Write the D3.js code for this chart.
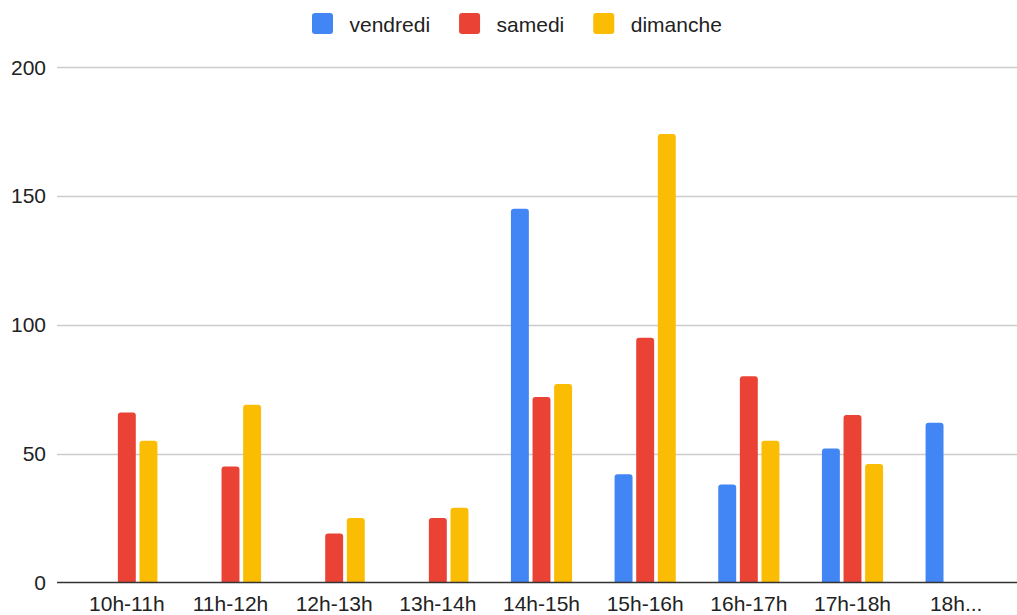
<!DOCTYPE html>
<html>
<head>
<meta charset="utf-8">
<script src="https://cdn.jsdelivr.net/npm/d3@7"></script>
<style>
  body { margin: 0; background: #fff; }
  svg { display: block; font-family: "Liberation Sans", Arial, sans-serif; }
</style>
</head>
<body>
<svg id="chart"></svg>
<script>
// Time slots (x categories)
const categories = ["10h-11h", "11h-12h", "12h-13h", "13h-14h", "14h-15h", "15h-16h", "16h-17h", "17h-18h", "18h..."];
const seriesNames = ["vendredi", "samedi", "dimanche"];
const colors = ["#4285F4", "#EA4335", "#FBBC04"];

// Values (null = no bar)
const vendredi = [null, null, null, null, 145, 42, 38, 52, 62];
const samedi   = [66, 45, 19, 25, 72, 95, 80, 65, null];
const dimanche = [55, 69, 25, 29, 77, 174, 55, 46, null];

const yTicks = [0, 50, 100, 150, 200];

const width = 1017, height = 615;
const svg = d3.select("#chart").attr("width", width).attr("height", height);

// Scales
const y = d3.scaleLinear().domain([0, 200]).range([582.5, 67]);
const x0 = d3.scaleBand().domain(categories).range([75, 1008])
    .paddingInner(0.41).paddingOuter(0.205);
const x1 = d3.scaleBand().domain(seriesNames).range([0, x0.bandwidth()])
    .paddingInner(0.17).paddingOuter(0);

// Gridlines + y labels
const grid = svg.append("g");
grid.selectAll("line")
    .data(yTicks.filter(d => d > 0))
    .join("line")
    .attr("x1", 57).attr("x2", 1017)
    .attr("y1", d => Math.round(y(d)) + 0.5)
    .attr("y2", d => Math.round(y(d)) + 0.5)
    .attr("stroke", "#cccccc")
    .attr("stroke-width", 1.5);

grid.selectAll("text")
    .data(yTicks)
    .join("text")
    .attr("x", 46)
    .attr("y", d => y(d))
    .attr("dy", "0.36em")
    .attr("text-anchor", "end")
    .attr("font-size", 21)
    .attr("fill", "#222")
    .text(d => d);

// Bars
const rows = categories.map((c, i) => ({
    cat: c,
    values: [vendredi[i], samedi[i], dimanche[i]]
}));

// bar path with rounded top corners
function barPath(x, yTop, w, yBase, r) {
    r = Math.min(r, w / 2, yBase - yTop);
    return `M${x},${yBase}V${yTop + r}Q${x},${yTop} ${x + r},${yTop}` +
        `H${x + w - r}Q${x + w},${yTop} ${x + w},${yTop + r}V${yBase}Z`;
}

const groups = svg.append("g")
    .selectAll("g")
    .data(rows)
    .join("g")
    .attr("transform", d => `translate(${x0(d.cat)},0)`);

groups.selectAll("path")
    .data(d => d.values.map((v, k) => ({ name: seriesNames[k], value: v, k })).filter(e => e.value != null))
    .join("path")
    .attr("d", e => barPath(x1(e.name), y(e.value), x1.bandwidth(), y(0), 3))
    .attr("fill", e => colors[e.k]);

// Baseline
svg.append("line")
    .attr("x1", 57).attr("x2", 1017)
    .attr("y1", y(0)).attr("y2", y(0))
    .attr("stroke", "#333")
    .attr("stroke-width", 1.5);

// X labels
svg.append("g")
    .selectAll("text")
    .data(categories)
    .join("text")
    .attr("x", d => x0(d) + x0.bandwidth() / 2)
    .attr("y", 611)
    .attr("text-anchor", "middle")
    .attr("font-size", 21)
    .attr("fill", "#222")
    .text(d => d);

// Legend
const legend = svg.append("g");
let lx = 312;
seriesNames.forEach((name, k) => {
    legend.append("rect")
        .attr("x", lx).attr("y", 13)
        .attr("width", 21).attr("height", 21)
        .attr("rx", 3)
        .attr("fill", colors[k]);
    const t = legend.append("text")
        .attr("x", lx + 37.5).attr("y", 24)
        .attr("dy", "0.36em")
        .attr("font-size", 21)
        .attr("fill", "#222")
        .text(name);
    lx += 37.5 + t.node().getComputedTextLength() + 29;
});
</script>
</body>
</html>
